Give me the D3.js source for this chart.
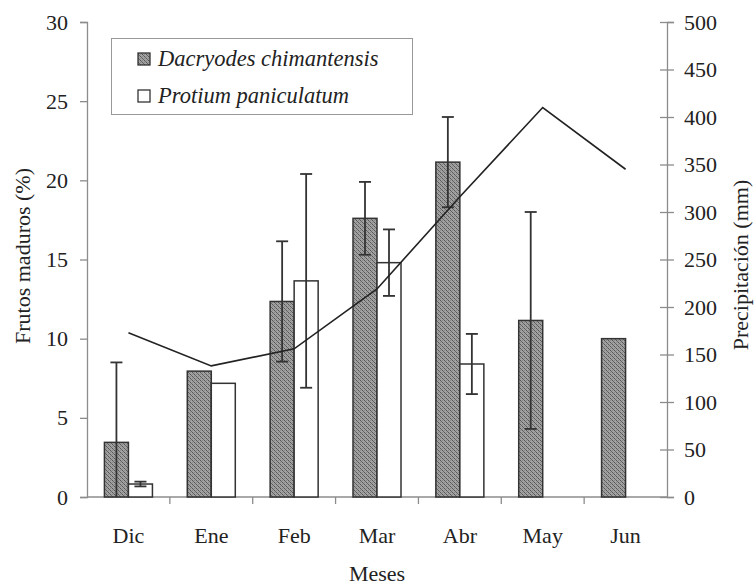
<!DOCTYPE html>
<html><head><meta charset="utf-8">
<script src="https://cdn.jsdelivr.net/npm/d3@7"></script>
<style>
body{margin:0;background:#fff;}
</style></head>
<body><svg id="c" width="756" height="586"></svg>
<script>
const months = ["Dic","Ene","Feb","Mar","Abr","May","Jun"];
const series = ["Dacryodes chimantensis","Protium paniculatum"];
const dacryodes = [3.45, 7.95, 12.35, 17.6, 21.15, 11.15, 10.0];
const dacryodesErr = [5.05, null, 3.8, 2.3, 2.85, 6.85, null];
const protium = [0.82, 7.18, 13.65, 14.8, 8.4, null, null];
const protiumErr = [0.15, null, 6.75, 2.1, 1.9, null, null];
const precip = [173, 138, 156, 219, 316, 410, 345];
const leftTicks = [0,5,10,15,20,25,30];
const rightTicks = [0,50,100,150,200,250,300,350,400,450,500];

// pick an installed Times-like font
const cv = document.createElement("canvas").getContext("2d");
function has(f){
  const s = "mmmmmmmmmlliWWabc0123";
  return ["monospace","sans-serif"].some(b=>{
    cv.font = "40px " + b; const w0 = cv.measureText(s).width;
    cv.font = `40px "${f}", ${b}`; const w1 = cv.measureText(s).width;
    return Math.abs(w0-w1) > 0.5;
  });
}
const cands = [["Liberation Serif",1],["Times New Roman",1],["Tinos",1],["Nimbus Roman",1],["FreeSerif",1],["DejaVu Serif Condensed",0.9],["Noto Serif",0.88],["DejaVu Serif",0.82]];
let FONT = "serif", K = 0.85;
for (const [f,k] of cands){ if (has(f)){ FONT = `"${f}"`; K = k; break; } }
const FS = 22*K, LFS = 22.5*K;

const svg = d3.select("#c");
const L = 87, R = 667, T = 22, B = 497;

const defs = svg.append("defs");
const pat = defs.append("pattern").attr("id","hatch").attr("patternUnits","userSpaceOnUse")
  .attr("width",4).attr("height",4);
pat.append("rect").attr("width",4).attr("height",4).attr("fill","#a2a2a2");
[[0,0,"#555"],[2,2,"#555"],[1,1,"#666"],[3,3,"#666"],[2,0,"#8a8a8a"],[0,2,"#8a8a8a"]].forEach(([px,py,c])=>
  pat.append("rect").attr("x",px).attr("y",py).attr("width",1).attr("height",1).attr("fill",c));

const x = d3.scaleBand().domain(months).range([L,R]).padding(0);
const xs = d3.scaleBand().domain(series).range([0,x.bandwidth()]).paddingInner(0).paddingOuter(0.726);
const y = d3.scaleLinear().domain([0,30]).range([B,T]);
const y2 = d3.scaleLinear().domain([0,500]).range([B,T]);

const axisCol = "#8c8c8c";
const gl = svg.append("g").attr("transform",`translate(${L},0)`)
  .call(d3.axisLeft(y).tickValues(leftTicks).tickSize(7).tickPadding(12).tickFormat(d3.format("d")));
const gr = svg.append("g").attr("transform",`translate(${R},0)`)
  .call(d3.axisRight(y2).tickValues(rightTicks).tickSize(7).tickPadding(10).tickFormat(d3.format("d")));
gr.selectAll(".tick line").attr("x1",-7);
const gb = svg.append("g").attr("transform",`translate(0,${B})`)
  .call(d3.axisBottom(x).tickSize(0).tickPadding(30));
gb.selectAll(".bt").data(months.slice(1)).enter().append("line")
  .attr("x1",d=>x(d)).attr("x2",d=>x(d)).attr("y1",0).attr("y2",7);
[gl,gr,gb].forEach(g=>{
  g.attr("font-family",null).attr("font-size",null);
  g.select(".domain").attr("stroke",axisCol).attr("stroke-width",1.3);
  g.selectAll("line").attr("stroke",axisCol).attr("stroke-width",1.3);
  g.selectAll("text").style("font-family",FONT).style("font-size",FS+"px").attr("fill","#222");
});
gb.select(".domain").attr("d",`M${L},0H${R}`);

const barG = svg.append("g");
const vals = [dacryodes, protium];
const errs = [dacryodesErr, protiumErr];
series.forEach((s,si)=>{
  months.forEach((m,i)=>{
    const v = vals[si][i];
    if (v==null) return;
    barG.append("rect")
      .attr("x", x(m)+xs(s)).attr("width", xs.bandwidth())
      .attr("y", y(v)).attr("height", y(0)-y(v))
      .attr("fill", si===0 ? "url(#hatch)" : "#fff")
      .attr("stroke","#333").attr("stroke-width",1.5);
  });
});
const errG = svg.append("g").attr("stroke","#333").attr("stroke-width",1.8);
series.forEach((s,si)=>{
  months.forEach((m,i)=>{
    const v = vals[si][i], e = errs[si][i];
    if (v==null || e==null) return;
    const cx = x(m)+xs(s)+xs.bandwidth()/2;
    const hi = v+e, lo = Math.max(0, v-e);
    errG.append("line").attr("x1",cx).attr("x2",cx).attr("y1",y(hi)).attr("y2",y(lo));
    errG.append("line").attr("x1",cx-6).attr("x2",cx+6).attr("y1",y(hi)).attr("y2",y(hi));
    if (v-e > 0) errG.append("line").attr("x1",cx-6).attr("x2",cx+6).attr("y1",y(lo)).attr("y2",y(lo));
  });
});

const line = d3.line().x((d,i)=>x(months[i])+x.bandwidth()/2).y(d=>y2(d));
svg.append("path").datum(precip).attr("d",line).attr("fill","none")
  .attr("stroke","#222").attr("stroke-width",1.6);

function txt(sel){ return sel.style("font-family",FONT).attr("fill","#222"); }
txt(svg.append("text")).attr("transform","translate(30,256) rotate(-90)").attr("text-anchor","middle")
  .style("font-size",FS+"px").text("Frutos maduros (%)");
txt(svg.append("text")).attr("transform","translate(748,265) rotate(-90)").attr("text-anchor","middle")
  .style("font-size",FS+"px").text("Precipitación (mm)");
txt(svg.append("text")).attr("x",(L+R)/2).attr("y",581).attr("text-anchor","middle")
  .style("font-size",FS+"px").text("Meses");

const lg = svg.append("g");
lg.append("rect").attr("x",111.5).attr("y",38.5).attr("width",301).attr("height",76)
  .attr("fill","#fff").attr("stroke","#999").attr("stroke-width",1);
series.forEach((s,si)=>{
  const yy = 59 + si*37;
  lg.append("rect").attr("x",138).attr("y",yy-6).attr("width",12).attr("height",12)
    .attr("fill", si===0 ? "url(#hatch)" : "#fff").attr("stroke","#333").attr("stroke-width",1.3);
  txt(lg.append("text")).attr("x",158).attr("y",yy+7).style("font-size",LFS+"px")
    .style("font-style","italic").text(s);
});
</script></body></html>
